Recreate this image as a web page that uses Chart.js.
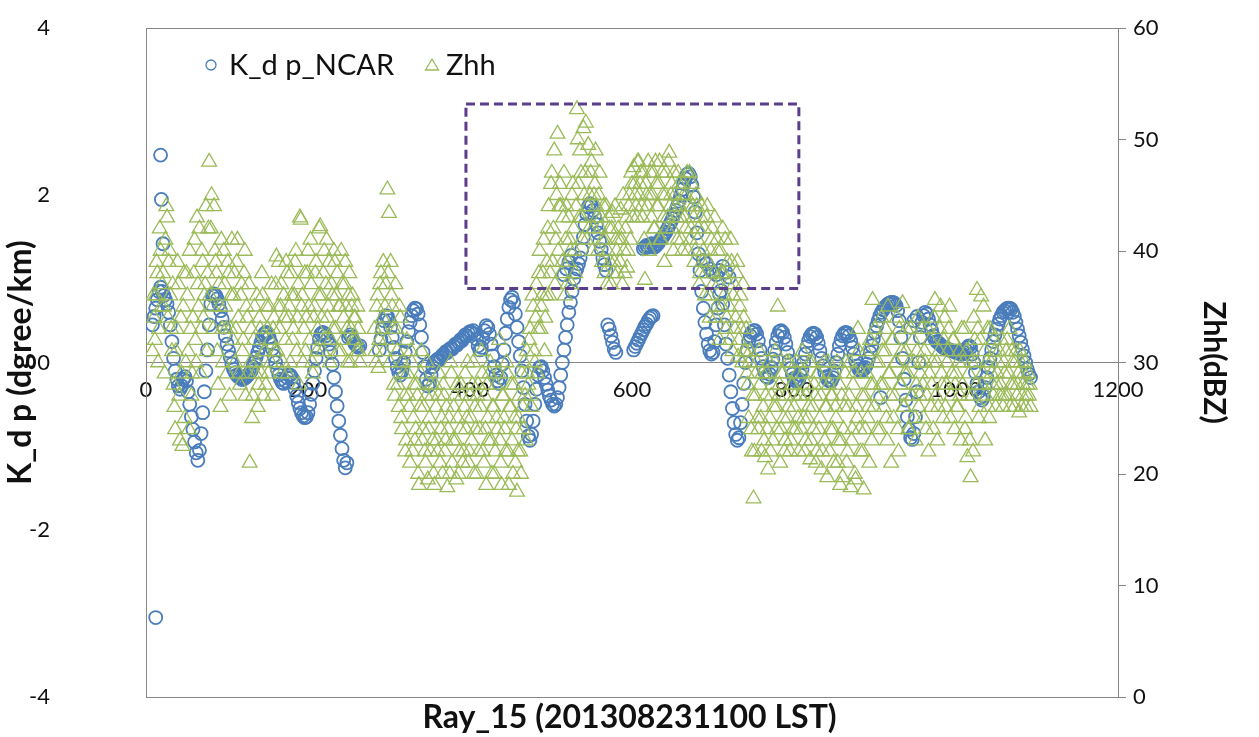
<!DOCTYPE html>
<html>
<head>
<meta charset="utf-8">
<title>K_dp NCAR and Zhh along Ray_15</title>
<script src="https://cdn.jsdelivr.net/npm/chart.js@4/dist/chart.umd.min.js"></script>
<style>
  html, body { margin: 0; padding: 0; background: #fff; }
</style>
</head>
<body>
<canvas id="myChart" width="1259" height="737"></canvas>
<script>
// rays are sampled every 2nd ray; even rays start at 8, odd rays at 9
const firstRay = 8;
const firstOddRay = 9;
const rayStep = 2;

// K_dp (deg/km), one value per sampled even ray, null where the ray has no data
const kdpValues = [
  0.45, 0.55, 0.65, 0.75, 0.85, 0.9, 0.85, 0.8, 0.75, 0.7, 0.6, 0.45, 0.25, 0.05, -0.1, -0.2, -0.28, -0.32, -0.28, -0.2, -0.17, -0.22, -0.35, -0.5, -0.65, // 8-56
  -0.8, -0.95, -1.08, -1.17, -1.05, -0.85, -0.6, -0.35, -0.1, 0.15, 0.45, 0.7, 0.8, 0.82, 0.8, 0.76, 0.7, 0.62, 0.52, 0.42, 0.32, 0.22, 0.14, 0.06, -0.02, // 58-106
  -0.08, -0.12, -0.15, -0.17, -0.18, -0.2, -0.2, -0.19, -0.17, -0.15, -0.13, -0.1, -0.05, 0.0, 0.06, 0.12, 0.18, 0.24, 0.3, 0.34, 0.36, 0.35, 0.3, 0.24, 0.16, // 108-156
  0.08, 0.0, -0.08, -0.15, -0.2, -0.24, -0.25, -0.22, -0.18, -0.15, -0.15, -0.18, -0.24, -0.32, -0.4, -0.48, -0.55, -0.6, -0.64, -0.66, -0.65, -0.6, -0.5, -0.38, -0.25, // 158-206
  -0.1, 0.05, 0.18, 0.28, 0.34, 0.36, 0.35, 0.32, 0.28, 0.22, 0.12, -0.02, -0.18, -0.35, -0.52, -0.7, -0.87, -1.03, -1.17, -1.26, -1.2, 0.3, 0.33, 0.3, 0.26, // 208-256
  0.22, 0.2, 0.18, 0.2, null, null, null, null, null, null, null, null, null, null, null, 0.15, 0.28, 0.4, 0.5, 0.56, 0.55, 0.5, 0.42, 0.3, 0.18, // 258-306
  0.05, -0.05, -0.12, -0.15, -0.1, 0.0, 0.12, 0.25, 0.37, 0.48, 0.56, 0.62, 0.65, 0.64, 0.58, 0.45, 0.3, 0.12, -0.05, -0.2, -0.28, -0.25, -0.15, -0.05, 0.0, // 308-356
  0.02, 0.04, 0.03, 0.06, 0.09, 0.1, 0.13, 0.12, 0.15, 0.17, 0.16, 0.19, 0.22, 0.21, 0.24, 0.27, 0.26, 0.3, 0.33, 0.32, 0.35, 0.37, 0.36, 0.38, 0.34, // 358-406
  0.28, 0.2, 0.15, 0.18, 0.28, 0.38, 0.44, 0.42, 0.34, 0.22, 0.08, -0.05, -0.15, -0.22, -0.25, -0.18, -0.02, 0.15, 0.35, 0.52, 0.66, 0.75, 0.78, 0.72, 0.58, // 408-456
  0.42, 0.25, 0.08, -0.1, -0.3, -0.5, -0.7, -0.88, -0.93, -0.86, -0.7, -0.5, -0.32, -0.15, -0.06, -0.05, -0.1, -0.18, -0.26, -0.33, -0.4, -0.45, -0.5, -0.52, -0.5, // 458-506
  -0.42, -0.3, -0.15, 0.0, 0.15, 0.3, 0.45, 0.6, 0.72, 0.85, 1.0, 1.08, 1.12, 1.18, 1.25, 1.35, 1.5, 1.65, 1.78, 1.86, 1.9, 1.88, 1.82, 1.74, 1.65, // 508-556
  1.55, 1.45, 1.35, 1.25, 1.17, 1.1, 0.45, 0.4, 0.32, 0.24, 0.16, 0.12, null, null, null, null, null, null, null, null, null, null, 0.15, 0.19, 0.23, // 558-606
  0.27, 0.31, 0.35, 0.39, 0.43, 0.46, 0.5, 0.53, 0.55, 0.56, 1.38, 1.4, 1.42, 1.45, 1.48, 1.5, 1.53, 1.56, 1.6, 1.64, 1.68, 1.72, 1.77, 1.82, 1.87, // 608-656
  1.93, 2.0, 2.07, 2.14, 2.2, 2.25, 2.26, 2.22, 2.12, 1.98, 1.8, 1.55, 1.3, 1.1, 0.85, 0.65, 0.48, 0.34, 0.22, 0.14, 0.1, 0.12, 0.25, 0.45, 0.65, // 658-706
  0.82, 0.86, 0.7, 0.45, 0.22, 0.05, -0.15, -0.35, -0.55, -0.72, -0.86, -0.93, -0.9, -0.72, -0.5, -0.25, 0.0, 0.15, 0.25, 0.32, 0.36, 0.38, 0.38, 0.34, 0.26, // 708-756
  0.15, 0.05, -0.05, -0.12, -0.17, -0.18, -0.14, -0.06, 0.04, 0.14, 0.24, 0.32, 0.37, 0.38, 0.36, 0.3, 0.22, 0.12, 0.02, -0.07, -0.14, -0.19, -0.22, -0.22, -0.2, // 758-806
  -0.15, -0.08, 0.0, 0.1, 0.19, 0.26, 0.31, 0.34, 0.35, 0.34, 0.3, 0.23, 0.14, 0.05, -0.04, -0.12, -0.17, -0.21, -0.22, -0.22, -0.18, -0.1, 0.0, 0.1, 0.2, // 808-856
  0.27, 0.32, 0.35, 0.36, 0.35, 0.32, 0.26, 0.18, 0.1, 0.02, -0.04, -0.08, -0.1, -0.1, -0.08, -0.06, -0.02, 0.05, 0.12, 0.2, 0.28, 0.36, 0.44, 0.5, 0.56, // 858-906
  0.6, 0.63, 0.66, 0.68, 0.7, 0.71, 0.72, 0.72, 0.71, 0.68, 0.62, 0.5, 0.3, 0.05, -0.2, -0.45, -0.65, -0.8, -0.9, -0.92, -0.85, -0.65, -0.35, 0.0, 0.3, // 908-956
  0.48, 0.56, 0.6, 0.58, 0.52, 0.45, 0.38, 0.32, 0.28, 0.25, 0.24, 0.22, 0.2, 0.18, 0.17, 0.16, 0.16, 0.15, 0.14, 0.14, 0.13, 0.12, 0.12, 0.11, 0.1, // 958-1006
  0.1, 0.12, 0.15, 0.18, 0.2, 0.18, 0.1, 0.0, -0.12, -0.25, -0.35, -0.42, -0.45, -0.4, -0.3, -0.18, -0.06, 0.05, 0.15, 0.25, 0.33, 0.4, 0.46, 0.52, 0.56, // 1008-1056
  0.6, 0.62, 0.64, 0.65, 0.65, 0.64, 0.6, 0.55, 0.48, 0.4, 0.32, 0.24, 0.16, 0.08, 0.0, -0.08, -0.14, -0.18 // 1058-1092
];

// K_dp gates that sit off the main trace
const kdpExtraRays = [12, 18, 19, 21, 516, 519, 522, 525, 614, 616, 618, 620, 622, 624, 626,
  688, 692, 696, 700, 704, 708, 712, 716, 720, 907, 944, 948, 952];
const kdpExtraValues = [-3.05, 2.48, 1.95, 1.42, 1.05, 1.12, 1.2, 1.28, 1.36, 1.38, 1.4, 1.38, 1.4, 1.42, 1.4,
  1.22, 1.18, 1.12, 1.08, 1.05, 1.1, 1.15, 1.08, 1.02, -0.42, 0.42, 0.5, 0.55];

// Zhh (dBZ) on the even rays
const zhhValues = [
  31, 34, 36, 38, 33, 40, 37, 35, 41, 43, 39, 36, 31, 28, 24, 33, 37, 23, 29, 35, 25, 38, 31, 40, 27, // 8-56
  34, 41, 30, 37, 42, 33, 39, 36, 44, 38, 48, 42, 35, 44, 39, 31, 37, 26, 33, 40, 35, 29, 38, 33, 41, // 58-106
  36, 30, 39, 34, 28, 37, 32, 40, 35, 29, 21, 33, 27, 35, 30, 26, 34, 29, 36, 31, 28, 33, 35, 30, 27, // 108-156
  34, 37, 31, 39, 35, 29, 36, 32, 38, 34, 30, 36, 33, 39, 31, 37, 43, 35, 30, 38, 34, 40, 32, 37, 29, // 158-206
  35, 39, 33, 42, 36, 31, 40, 37, 34, 39, 32, 36, 40, 33, 38, 35, 31, 37, 34, 39, 33, 36, 30, 35, 32, // 208-256
  34, 31, 33, 30, null, null, null, null, null, null, null, null, 33, 30, 36, 32, 38, 34, 31, 37, 45.5, 43.4, 39, 35, 28, // 258-306
  37, 31, 26, 34, 24, 29, 22, 32, 27, 21, 30, 25, 23, 28, 20, 26, 31, 24, 22, 27, 19.5, 25, 28, 23, 19, // 308-356
  26, 22, 29, 24, 20, 27, 23, 18.8, 25, 30, 21, 26, 23, 28, 20, 24, 27, 22, 29, 25, 21, 27, 23, 30, 26, // 358-406
  20, 28, 24, 31, 22, 27, 19, 25, 29, 23, 26, 20, 28, 24, 32, 21, 27, 25, 22, 29, 19, 26, 23, 28, 21, // 408-456
  18.4, 25, 22, 29, 24, 27, 31, 28, 33, 26, 35, 30, 37, 33, 40, 35, 38, 31, 36, 42, 36, 46, 39, 49, 41, // 458-506
  50.5, 44, 44, 39, 47, 41, 37, 43, 40, 45, 42, 38, 52.7, 46, 49, 43, 51, 47, 41, 49.5, 45, 48, 42, 46, 44, // 508-556
  40, 47, 43, 41, 38, 44, 40, 42, 37, 43.4, 39, 41, 38, 41, 43.7, 37, 40, 42, 38.5, 44, 41, 46, 47.5, 45, 43, // 558-606
  48, 46, 44, 47, 37.4, 45, 48, 45, 43, 47, 42, 46, 44, 48, 41, 45, 39, 47, 43, 48.8, 45, 42, 47, 44, 41, // 608-656
  46, 43, 40, 45, 42, 47, 44, 41, 46, 43, 40, 44, 42, 38, 44, 40, 36, 43, 39, 34, 41, 37, 43, 35, 40, // 658-706
  32, 38, 42, 36, 33, 39, 35, 41, 31, 37, 34, 39, 32, 36, 30, 34, 31, 29, 25, 31, 22, 17.8, 27, 30, 24, // 708-756
  28, 22, 26, 21.5, 29, 20.4, 25, 27, 23, 30, 26, 35, 28, 24, 29, 22, 27, 25, 30, 23, 28, 26, 24, 29, 22, // 758-806
  27, 31, 25, 23, 28, 26, 21.3, 30, 24, 27, 22, 29, 25, 20.4, 28, 23, 26, 30, 22, 27, 24, 29, 25, 21, 28, // 808-856
  23, 19.7, 26, 30, 22, 27, 18.8, 24, 29, 19.5, 25, 31, 22, 27, 18.6, 24, 29, 26, 32, 23, 28, 33, 27, 30, 24, // 858-906
  34, 28, 31, 25, 35, 29, 21, 32, 27, 30, 24, 33, 28, 35.3, 26, 31, 29, 24, 33, 27, 30, 23, 31, 26, 29, // 908-956
  33, 25, 30, 27, 22, 32, 28, 24, 35.6, 30, 26, 33, 29, 25, 34, 28, 31, 35, 27, 32, 24, 29, 26, 31, 23, // 958-1006
  28, 33, 25, 21.5, 29, 19.7, 27, 34, 30, 36.5, 25, 32, 28, 35, 23, 30, 26, 33, 29, 27, 31, 28, 30, 27, 32, // 1008-1056
  26, 29, 31, 27, 33, 28, 30, 26, 31, 28, 25.5, 30, 27, 29, 26, 28, 27, 26 // 1058-1092
];

// Zhh (dBZ) on the odd rays
const zhhOddValues = [
  36, 32, 39, 30, 42, 35, 38, 29, 44, 34, 40, 33, 37, 26, 31, 39, 27, 34, 22.5, 38, 30, 36, 24, 33, 29, // 9-57
  38, 32, 43, 35, 29, 40, 34, 37, 31, 42, 36, 45, 33, 40, 38, 28, 35, 41, 30, 37, 33, 39, 27, 36, 32, // 59-107
  38, 33, 41, 29, 36, 31, 38, 27, 34, 37, 30, 25, 32, 29, 36, 28, 33, 38, 27, 31, 35, 29, 32, 37, 33, // 109-157
  31, 39.5, 35, 33, 37, 30, 34, 39, 29, 35, 38, 32, 36, 40, 34, 28, 42.8, 36, 33, 31, 38, 35, 41, 30, 34, // 159-207
  38, 31, 36, 42.2, 34, 38, 32, 41, 35, 30, 37, 33, 39, 36, 31, 35, 40, 32, 37, 35, 30, 38, 33, 36, 34, // 209-257
  32, 35, 31, null, null, null, null, null, null, null, null, null, 31, 35, 29.5, 37, 33, 39, 35, 32, 38, 30, 36, 33, 27, // 259-307
  33, 28, 35, 25, 30, 27, 23, 29, 26, 31, 22, 28, 24, 27, 19, 29, 23, 26, 21, 30, 24, 22, 27, 20, 28, // 309-357
  23, 27, 21, 25, 28, 22, 26, 24, 20, 29, 23, 27, 19.5, 25, 22, 28, 21, 26, 24, 30, 22, 25, 28, 20, 24, // 359-407
  27, 22, 26, 29, 21, 24, 28, 23, 30, 20, 26, 22, 25, 29, 23, 19, 27, 24, 30, 22, 26, 28, 20, 25, 24, // 409-457
  22, 27, 20, 26, 30, 23, 29, 32, 27, 36, 31, 34, 29, 38, 33, 36, 41, 34, 39, 44, 38, 47, 42, 37, 45, // 459-507
  40, 46, 38, 43, 36, 44, 39, 41, 37, 46, 40, 44, 50, 43, 47, 41, 45, 51.5, 44, 42, 47, 40, 45, 49, 43, // 509-557
  45, 42, 39, 44, 41, 37, 43, 39, 42, 38, 44, 40, 42, 39, 41, 45, 38, 43, 40, 45, 47, 43, 46, 44, 48, // 559-607
  45, 47, 43, 41, 46, 44, 40, 47, 45, 42, 48, 44, 46, 41, 47, 43, 45, 42, 48, 44, 46, 40, 45, 43, 47, // 609-657
  44, 41, 46, 43, 45, 40, 47, 42, 44, 39, 45, 41, 37, 43, 39, 42, 38, 44, 36, 40, 42, 38, 34, 41, 37, // 659-707
  40, 35, 38, 41, 34, 37, 32, 39, 36, 33, 38, 30.5, 35, 33, 37, 31, 33, 28, 30, 24, 27, 22, 29, 25, 31, // 709-757
  25, 29, 23, 27, 24, 30, 22, 28, 26, 31, 24, 27, 21, 29, 25, 23, 30, 26, 22, 28, 24, 27, 30, 25, 27, // 759-807
  24, 29, 22, 27, 25, 30, 23, 26, 28, 21, 29, 24, 27, 22, 30, 26, 19.7, 28, 24, 27, 21, 26, 30, 23, 19, // 809-857
  27, 24, 29, 21, 26, 30, 23, 28, 20, 26, 33, 24, 29, 22, 27, 31, 25, 21, 28, 35.6, 26, 30, 24, 32, 28, // 859-907
  31, 26, 33, 23, 29, 27, 32, 25, 30, 34, 22, 28, 31, 26, 29, 33, 24, 30, 27, 32, 25, 28, 34, 27, 30, // 909-957
  28, 31, 24, 33, 29, 26, 30, 34, 27, 23, 31, 35, 28, 32, 26, 30, 33, 25, 29, 32, 28, 26, 30, 27, 33, // 959-1007
  30, 24, 31, 27, 23, 30, 22, 32, 28, 33, 26, 35.9, 29, 31, 27, 33, 25, 30, 28, 32, 26, 29, 31, 28, 27, // 1009-1057
  30, 27, 32, 29, 26, 31, 28, 30, 27, 29, 31, 26, 28, 30, 27, 29, 28 // 1059-1091
];

const rayTicks = [0, 200, 400, 600, 800, 1000, 1200];
const kdpTicks = [-4, -2, 0, 2, 4];
const zhhTicks = [0, 10, 20, 30, 40, 50, 60];

// highlighted region: ray range and K_dp range
const boxRays = [395, 806];
const boxKdp = [0.885, 3.09];

const kdpColor = '#4a7dbb';
const zhhColor = '#9bbb59';
const axisColor = '#868686';
const textColor = '#111';
const fontFamily = 'Lato, "Open Sans", sans-serif';

const toPoints = (values, start) => values
  .map((v, i) => ({x: start + i * rayStep, y: v}))
  .filter(p => p.y !== null);

const kdpPoints = toPoints(kdpValues, firstRay)
  .concat(kdpExtraRays.map((r, i) => ({x: r, y: kdpExtraValues[i]})));
const zhhPoints = toPoints(zhhValues, firstRay).concat(toPoints(zhhOddValues, firstOddRay));

const plainNumber = (v) => String(v);

// plot frame drawn under the markers
const framePlugin = {
  id: 'frame',
  beforeDatasetsDraw(chart) {
    const {ctx, chartArea: a} = chart;
    ctx.save();
    ctx.strokeStyle = axisColor;
    ctx.lineWidth = 1;
    ctx.strokeRect(Math.round(a.left) + 0.5, Math.round(a.top) + 0.5,
      Math.round(a.right - a.left), Math.round(a.bottom - a.top));
    ctx.restore();
  }
};

// dashed box around the high K_dp / high Zhh part
const boxPlugin = {
  id: 'dashBox',
  afterDatasetsDraw(chart) {
    const {ctx} = chart;
    const xs = chart.scales.x, ys = chart.scales.y;
    const l = xs.getPixelForValue(boxRays[0]);
    const r = xs.getPixelForValue(boxRays[1]);
    const t = ys.getPixelForValue(boxKdp[1]);
    const b = ys.getPixelForValue(boxKdp[0]);
    ctx.save();
    ctx.setLineDash([9, 5]);
    ctx.lineWidth = 3;
    ctx.strokeStyle = '#5b3d8c';
    ctx.strokeRect(l, t, r - l, b - t);
    ctx.restore();
  }
};

// legend sitting inside the plot, top left
const legendPlugin = {
  id: 'insideLegend',
  afterDraw(chart) {
    const {ctx} = chart;
    const ds = chart.data.datasets;
    ctx.save();
    ctx.font = '29px ' + fontFamily;
    ctx.fillStyle = textColor;
    ctx.textBaseline = 'middle';

    ctx.strokeStyle = kdpColor;
    ctx.lineWidth = 1.3;
    ctx.beginPath();
    ctx.arc(211, 65, 5, 0, Math.PI * 2);
    ctx.stroke();
    ctx.fillText(ds[1].label, 229, 66);

    ctx.strokeStyle = zhhColor;
    ctx.beginPath();
    ctx.moveTo(432, 59);
    ctx.lineTo(438.5, 70);
    ctx.lineTo(425.5, 70);
    ctx.closePath();
    ctx.stroke();
    ctx.fillText(ds[0].label, 446, 66);
    ctx.restore();
  }
};

const myChart = new Chart(document.getElementById('myChart').getContext('2d'), {
  type: 'scatter',
  data: {
    datasets: [{
      label: 'Zhh',
      data: zhhPoints,
      yAxisID: 'y1',
      order: 0,
      pointStyle: 'triangle',
      pointRadius: 8.5,
      pointBorderWidth: 1.3,
      pointBorderColor: zhhColor,
      pointBackgroundColor: 'rgba(0,0,0,0)'
    }, {
      label: 'K_d p_NCAR',
      data: kdpPoints,
      yAxisID: 'y',
      order: 1,
      pointStyle: 'circle',
      pointRadius: 6.5,
      pointBorderWidth: 1.8,
      pointBorderColor: kdpColor,
      pointBackgroundColor: 'rgba(0,0,0,0)'
    }]
  },
  options: {
    responsive: false,
    animation: false,
    events: [],
    devicePixelRatio: 1,
    layout: {padding: {top: 28, left: 0, right: 0, bottom: 0}},
    plugins: {legend: {display: false}, tooltip: {enabled: false}},
    scales: {
      x: {
        type: 'linear',
        position: {y: 0},
        min: rayTicks[0],
        max: rayTicks[rayTicks.length - 1],
        ticks: {stepSize: rayTicks[1] - rayTicks[0], padding: 14, color: textColor,
          font: {family: fontFamily, size: 22}, maxRotation: 0, callback: plainNumber},
        grid: {display: true, drawOnChartArea: false, drawTicks: false},
        border: {color: axisColor},
        afterFit(s) { s.height = 0; s.paddingLeft = 0; s.paddingRight = 0; }
      },
      x2: {
        type: 'linear',
        position: 'bottom',
        fullSize: true,
        min: rayTicks[0],
        max: rayTicks[rayTicks.length - 1],
        ticks: {display: false},
        grid: {display: false, drawTicks: false},
        border: {display: false},
        title: {display: true, text: 'Ray_15 (201308231100 LST)', color: textColor,
          font: {family: fontFamily, size: 32, weight: 'bold'}, padding: {top: 0, bottom: 0}},
        afterFit(s) { s.height = 40; }
      },
      y: {
        position: 'left',
        min: kdpTicks[0],
        max: kdpTicks[kdpTicks.length - 1],
        ticks: {stepSize: kdpTicks[1] - kdpTicks[0], padding: 96, color: textColor,
          font: {family: fontFamily, size: 22}, callback: plainNumber},
        grid: {display: true, drawOnChartArea: false, drawTicks: false},
        border: {color: axisColor},
        title: {display: true, text: 'K_d p (dgree/km)', color: textColor,
          font: {family: fontFamily, size: 32, weight: 'bold'}, padding: {top: 1, bottom: 0}},
        // the wide label gap must not push the plot area down
        afterFit(s) { s.width = 146; s.paddingTop = 0; s.paddingBottom = 0; }
      },
      y1: {
        position: 'right',
        min: zhhTicks[0],
        max: zhhTicks[zhhTicks.length - 1],
        ticks: {stepSize: zhhTicks[1] - zhhTicks[0], padding: 7, color: textColor,
          font: {family: fontFamily, size: 22}, callback: plainNumber},
        grid: {display: true, drawOnChartArea: false, drawTicks: true, tickLength: 8, color: axisColor},
        border: {color: axisColor},
        title: {display: true, text: 'Zhh(dBZ)', color: textColor,
          font: {family: fontFamily, size: 30, weight: 'bold'}, padding: {top: 27, bottom: 0}},
        afterFit(s) { s.width = 141; s.paddingTop = 0; s.paddingBottom = 0; }
      }
    }
  },
  plugins: [framePlugin, boxPlugin, legendPlugin]
});
</script>
</body>
</html>
